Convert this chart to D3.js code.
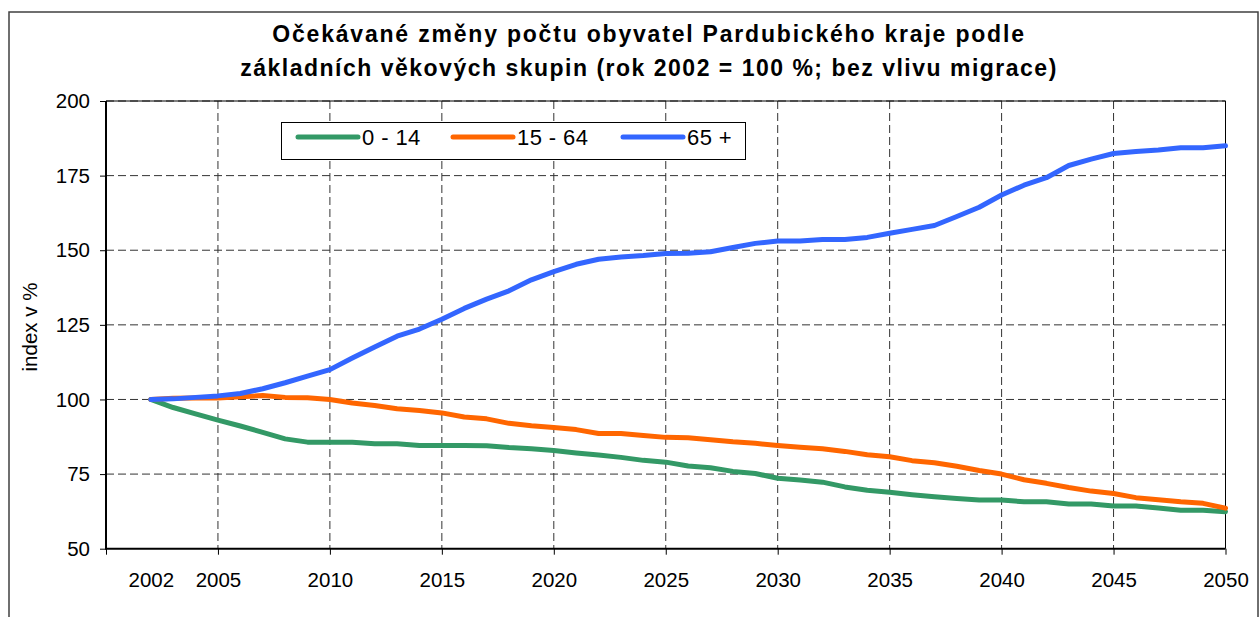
<!DOCTYPE html>
<html>
<head>
<meta charset="utf-8">
<script src="https://cdn.jsdelivr.net/npm/d3@7"></script>
<style>
  body { margin: 0; background: #fff; }
  svg { display: block; font-family: Arial, "Liberation Sans", sans-serif; }
  .domain { display: none; }
</style>
</head>
<body>
<div id="chart"></div>
<script>

// years of the projection
var years = [2002, 2003, 2004, 2005, 2006, 2007, 2008, 2009, 2010,
  2011, 2012, 2013, 2014, 2015, 2016, 2017, 2018, 2019, 2020,
  2021, 2022, 2023, 2024, 2025, 2026, 2027, 2028, 2029, 2030,
  2031, 2032, 2033, 2034, 2035, 2036, 2037, 2038, 2039, 2040,
  2041, 2042, 2043, 2044, 2045, 2046, 2047, 2048, 2049, 2050];

// index (2002 = 100) per age group
var kids = [100, 97.3, 95.2, 93.1, 91.1, 89.0, 86.8, 85.7, 85.7,
  85.7, 85.2, 85.2, 84.6, 84.6, 84.6, 84.5, 83.9, 83.5, 82.9,
  82.1, 81.4, 80.6, 79.6, 79.0, 77.7, 77.1, 75.9, 75.2, 73.6,
  73.0, 72.3, 70.7, 69.6, 68.9, 68.1, 67.4, 66.8, 66.3, 66.3,
  65.7, 65.7, 65.0, 65.0, 64.3, 64.3, 63.6, 62.9, 62.9, 62.4];

var working = [100, 100.4, 100.5, 100.5, 100.9, 101.3, 100.7, 100.6, 100.0,
  98.8, 98.0, 96.9, 96.3, 95.5, 94.1, 93.5, 92.0, 91.2, 90.6,
  89.9, 88.6, 88.6, 87.9, 87.3, 87.2, 86.5, 85.8, 85.3, 84.6,
  84.0, 83.5, 82.6, 81.5, 80.8, 79.5, 78.8, 77.6, 76.2, 75.0,
  73.1, 71.9, 70.5, 69.3, 68.5, 67.1, 66.4, 65.7, 65.2, 63.6];

var seniors = [100, 100.2, 100.7, 101.2, 102.0, 103.6, 105.6, 107.8, 110.0,
  113.9, 117.6, 121.2, 123.6, 126.9, 130.5, 133.6, 136.4, 140.1, 142.8,
  145.3, 147.0, 147.7, 148.2, 148.9, 149.0, 149.5, 150.9, 152.3, 153.1,
  153.1, 153.6, 153.6, 154.3, 155.7, 157.0, 158.3, 161.3, 164.4, 168.5,
  171.8, 174.3, 178.4, 180.5, 182.4, 183.1, 183.6, 184.3, 184.3, 185.0];

var seriesNames = ["0 - 14", "15 - 64", "65 +"];
var seriesColors = ["#339966", "#ff6600", "#3366ff"];

var yTicks = [50, 75, 100, 125, 150, 175, 200];
var xTickMarks = [2000, 2005, 2010, 2015, 2020, 2025, 2030, 2035, 2040, 2045, 2050];
var xTickLabels = [2002, 2005, 2010, 2015, 2020, 2025, 2030, 2035, 2040, 2045, 2050];

var svgWidth = 1260;
var svgHeight = 617;

var margin = { top: 101, right: 34.5, bottom: 68.3, left: 106 };
var width = svgWidth - margin.left - margin.right;
var height = svgHeight - margin.top - margin.bottom;

var svg = d3.select("#chart")
  .append("svg")
  .attr("width", svgWidth)
  .attr("height", svgHeight);

// outer chart frame
svg.append("rect")
  .attr("x", 9)
  .attr("y", 12)
  .attr("width", 1249)
  .attr("height", 700)
  .attr("fill", "none")
  .attr("stroke", "#404040")
  .attr("stroke-width", 1.5);

// title
var title = svg.append("text")
  .attr("text-anchor", "middle")
  .attr("font-size", "23px")
  .attr("font-weight", "bold")
  .attr("fill", "#000");
title.append("tspan")
  .attr("x", 649)
  .attr("y", 42)
  .attr("letter-spacing", "1.8px")
  .text("Očekávané změny počtu obyvatel Pardubického kraje podle");
title.append("tspan")
  .attr("x", 649)
  .attr("y", 76)
  .attr("letter-spacing", "1.5px")
  .text("základních věkových skupin (rok 2002 = 100 %; bez vlivu migrace)");

var chartGroup = svg.append("g")
  .attr("transform", `translate(${margin.left}, ${margin.top})`);

var xScale = d3.scaleLinear()
  .domain([2000, 2050])
  .range([0, width]);

var yScale = d3.scaleLinear()
  .domain([50, 200])
  .range([height, 0]);

// dashed grid
chartGroup.append("g")
  .selectAll("line")
  .data(yTicks.slice(1))
  .enter()
  .append("line")
  .attr("x1", 0)
  .attr("x2", width)
  .attr("y1", d => yScale(d))
  .attr("y2", d => yScale(d))
  .attr("stroke", "#333")
  .attr("stroke-width", 1)
  .attr("stroke-dasharray", "8,4");

chartGroup.append("g")
  .selectAll("line")
  .data(xTickMarks.slice(1, -1))
  .enter()
  .append("line")
  .attr("x1", d => xScale(d))
  .attr("x2", d => xScale(d))
  .attr("y1", 0)
  .attr("y2", height)
  .attr("stroke", "#333")
  .attr("stroke-width", 1)
  .attr("stroke-dasharray", "8,4");

// plot border (top/right thin, left/bottom axis lines thick)
chartGroup.append("line")
  .attr("x1", 0).attr("x2", width)
  .attr("y1", 0).attr("y2", 0)
  .attr("stroke", "#000").attr("stroke-width", 1);
chartGroup.append("line")
  .attr("x1", width).attr("x2", width)
  .attr("y1", 0).attr("y2", height)
  .attr("stroke", "#000").attr("stroke-width", 1);

// y axis
var leftAxis = d3.axisLeft(yScale)
  .tickValues(yTicks)
  .tickSize(6)
  .tickPadding(10);

chartGroup.append("g")
  .call(leftAxis)
  .call(g => g.selectAll("text").attr("font-size", "20.5px").attr("fill", "#000").attr("font-family", null))
  .call(g => g.selectAll(".tick line").attr("stroke", "#000").attr("stroke-width", 1));

// x axis tick marks and labels
chartGroup.append("g")
  .attr("transform", `translate(0, ${height})`)
  .call(d3.axisBottom(xScale).tickValues(xTickMarks).tickFormat("").tickSize(6))
  .call(g => g.selectAll(".tick line").attr("stroke", "#000").attr("stroke-width", 1));

chartGroup.append("g")
  .attr("transform", `translate(0, ${height})`)
  .call(d3.axisBottom(xScale).tickValues(xTickLabels).tickFormat(d3.format("d")).tickSize(0).tickPadding(24))
  .call(g => g.selectAll("text").attr("font-size", "20.5px").attr("fill", "#000").attr("font-family", null));

chartGroup.append("line")
  .attr("x1", 0).attr("x2", 0)
  .attr("y1", 0).attr("y2", height)
  .attr("stroke", "#000").attr("stroke-width", 2);
chartGroup.append("line")
  .attr("x1", -1).attr("x2", width)
  .attr("y1", height).attr("y2", height)
  .attr("stroke", "#000").attr("stroke-width", 2);

// y axis title
svg.append("text")
  .attr("transform", "translate(37, 327) rotate(-90)")
  .attr("text-anchor", "middle")
  .attr("font-size", "20.5px")
  .attr("fill", "#000")
  .text("index v %");

// lines
var allSeries = [kids, working, seniors];

var line = d3.line()
  .x((d, i) => xScale(years[i]))
  .y(d => yScale(d));

chartGroup.selectAll(".series")
  .data(allSeries)
  .enter()
  .append("path")
  .attr("class", "series")
  .attr("d", d => line(d))
  .attr("fill", "none")
  .attr("stroke", (d, i) => seriesColors[i])
  .attr("stroke-width", 5)
  .attr("stroke-linejoin", "round")
  .attr("stroke-linecap", "round");

// legend
var legend = svg.append("g");

legend.append("rect")
  .attr("x", 281.5)
  .attr("y", 122.5)
  .attr("width", 464)
  .attr("height", 37)
  .attr("fill", "#fff")
  .attr("stroke", "#000")
  .attr("stroke-width", 1);

var legendX = [298, 453, 623];

var items = legend.selectAll(".item")
  .data(seriesNames)
  .enter()
  .append("g")
  .attr("class", "item")
  .attr("transform", (d, i) => `translate(${legendX[i]}, 137)`);

items.append("line")
  .attr("x1", 0)
  .attr("x2", 60)
  .attr("stroke", (d, i) => seriesColors[i])
  .attr("stroke-width", 5)
  .attr("stroke-linecap", "round");

items.append("text")
  .attr("x", 64)
  .attr("y", 7.5)
  .attr("font-size", "22px")
  .attr("letter-spacing", "0.4px")
  .attr("fill", "#000")
  .text(d => d);

</script>
</body>
</html>
